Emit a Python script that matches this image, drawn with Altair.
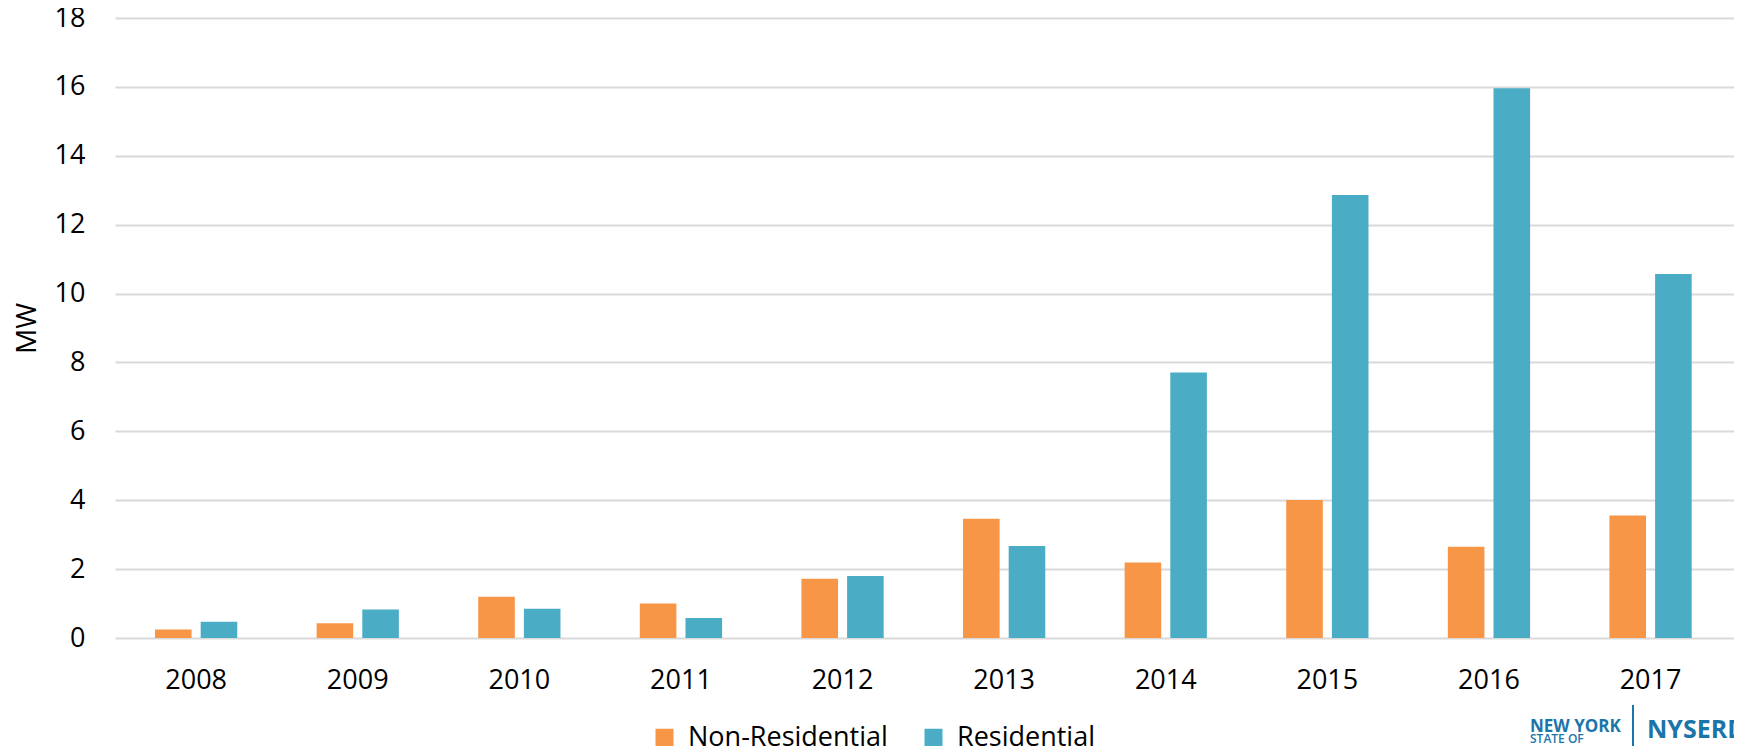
import altair as alt
import pandas as pd

# ---- data ----
years = ["2008", "2009", "2010", "2011", "2012", "2013", "2014", "2015", "2016", "2017"]
non_residential = [0.25, 0.43, 1.20, 1.00, 1.72, 3.46, 2.19, 4.01, 2.65, 3.56]
residential = [0.47, 0.83, 0.85, 0.58, 1.80, 2.67, 7.71, 12.86, 15.96, 10.57]
series = ["Non-Residential", "Residential"]
colors = ["#F79646", "#4BACC6"]
y_ticks = [0, 2, 4, 6, 8, 10, 12, 14, 16, 18]

rows = []
for i, yr in enumerate(years):
    rows.append({"year": yr, "series": series[0], "mw": non_residential[i]})
    rows.append({"year": yr, "series": series[1], "mw": residential[i]})
df = pd.DataFrame(rows)

FONT = "Open Sans"
LOGO = "#1b75a9"

bars = alt.Chart(df).mark_bar().encode(
    x=alt.X(
        "year:N",
        sort=years,
        scale=alt.Scale(paddingInner=0.491, paddingOuter=0.2547, align=0.486),
        axis=alt.Axis(
            title=None, labelAngle=0, labelFontSize=27, labelFont=FONT,
            labelColor="#000000", labelPadding=29, ticks=False, tickSize=0,
            domain=False, grid=False,
        ),
    ),
    xOffset=alt.XOffset(
        "series:N", sort=series,
        scale=alt.Scale(paddingInner=0.199, paddingOuter=0),
    ),
    y=alt.Y(
        "mw:Q",
        scale=alt.Scale(domain=[0, 18], nice=False),
        axis=alt.Axis(
            values=y_ticks, format="d", title="MW",
            titleFont=FONT, titleFontSize=28, titleFontWeight="normal",
            titleColor="#000000", titleX=-88, titleY=310, titleAngle=270,
            titleAlign="center", titleBaseline="middle",
            labelFontSize=27, labelFont=FONT, labelColor="#000000",
            labelPadding=30, ticks=False, tickSize=0, domain=False,
            grid=True, gridColor="#d9d9d9", gridWidth=2,
        ),
    ),
    color=alt.Color(
        "series:N",
        scale=alt.Scale(domain=series, range=colors),
        legend=alt.Legend(
            orient="none", legendX=536, legendY=706, direction="horizontal",
            title=None, symbolType="square", symbolSize=324,
            symbolStrokeWidth=0, labelFontSize=27, labelFont=FONT,
            labelColor="#000000", labelOffset=10, columnPadding=32,
            labelLimit=400, padding=0,
        ),
    ),
)


def logo_text(text, x, y, size, weight):
    return alt.Chart(pd.DataFrame({"t": [text]})).mark_text(
        align="left", baseline="alphabetic", font=FONT, fontSize=size,
        fontWeight=weight, color=LOGO,
    ).encode(x=alt.value(x), y=alt.value(y), text="t:N")


sep = alt.Chart(pd.DataFrame({"t": [0]})).mark_rule(color=LOGO, strokeWidth=2).encode(
    x=alt.value(1518), y=alt.value(687), y2=alt.value(745)
)

chart = alt.layer(
    bars,
    logo_text("NEW YORK", 1415, 714, 17, "bold"),
    logo_text("STATE OF", 1415, 725, 12, 600),
    logo_text("OPPORTUNITY", 1415, 738, 12, 600),
    sep,
    logo_text("NYSERDA", 1532, 720, 25, "bold"),
).properties(
    width=1619,
    height=620,
    autosize=alt.AutoSizeParams(type="none"),
    padding={"left": 107, "top": 10, "right": 0, "bottom": 108},
    background="white",
).configure_view(stroke=None)

chart.save("out.html", embed_options={"renderer": "svg", "actions": False})
